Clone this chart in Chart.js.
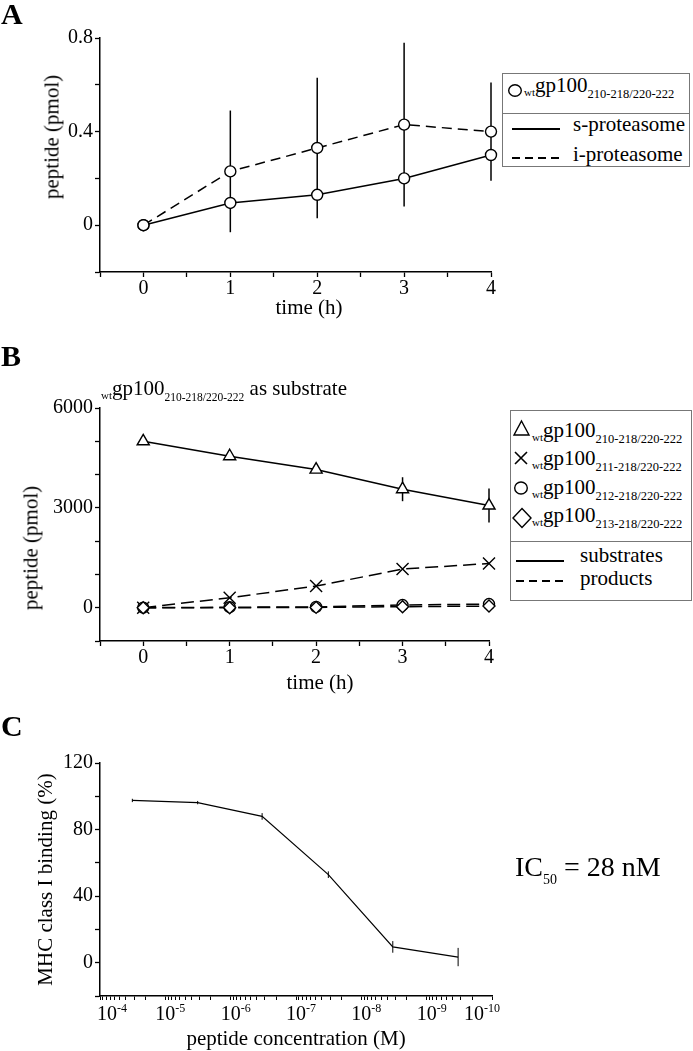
<!DOCTYPE html>
<html>
<head>
<meta charset="utf-8">
<script src="https://cdn.jsdelivr.net/npm/chart.js@4.4.0/dist/chart.umd.min.js"></script>
<style>
  body { margin: 0; background: #fff; }
  #page { position: relative; width: 693px; height: 1051px; overflow: hidden;
          font-family: 'Liberation Serif', 'Times New Roman', serif; color: #000; }
  canvas { position: absolute; left: 0; }
  .letter { position: absolute; left: 1px; font-weight: bold; font-size: 30px; line-height: 1; }
  .box { position: absolute; border: 1px solid #777; box-sizing: border-box; background: #fff; }
  .sep { position: absolute; height: 1px; background: #777; }
  .txt { position: absolute; white-space: nowrap; font-size: 21px; line-height: 1; }
  .ytitle { position: absolute; white-space: nowrap; font-size: 21px; line-height: 1;
            transform: translate(-50%, -50%) rotate(-90deg); }
  .xtitle { position: absolute; white-space: nowrap; font-size: 21px; line-height: 1;
            transform: translate(-50%, -50%); }
  .wt { font-size: 11px; position: relative; top: 4px; }
  .sb { font-size: 12.5px; position: relative; top: 6px; }
  svg { position: absolute; overflow: visible; }
</style>
</head>
<body>
<div id="page">
  <canvas id="chartA" width="693" height="320" style="top:0"></canvas>
  <canvas id="chartB" width="693" height="380" style="top:320px"></canvas>
  <canvas id="chartC" width="693" height="352" style="top:700px"></canvas>

  <div class="letter" style="top:-1px">A</div>
  <div class="letter" style="top:341px">B</div>
  <div class="letter" style="top:711px">C</div>

  <div class="ytitle" style="left:52px;top:137px">peptide (pmol)</div>
  <div class="ytitle" style="left:31px;top:548px">peptide (pmol)</div>
  <div class="xtitle" style="left:309px;top:307px">time (h)</div>
  <div class="xtitle" style="left:320px;top:682px">time (h)</div>

  <!-- legende A -->
  <div class="box" style="left:502px;top:73px;width:188px;height:94px"></div>
  <div class="sep" style="left:502px;top:113px;width:188px"></div>
  <svg style="left:508px;top:84px" width="14" height="13"><ellipse cx="7" cy="6.5" rx="6.3" ry="5.8" fill="#fff" stroke="#000" stroke-width="1.4"/></svg>
  <div class="txt" style="left:524px;top:75px"><span class="wt">wt</span>gp100<span class="sb">210-218/220-222</span></div>
  <svg style="left:512px;top:128px" width="48" height="3"><line x1="0" y1="1" x2="48" y2="1" stroke="#000" stroke-width="2"/></svg>
  <div class="txt" style="left:573px;top:114px">s-proteasome</div>
  <svg style="left:512px;top:157px" width="48" height="3"><line x1="0" y1="1" x2="48" y2="1" stroke="#000" stroke-width="2" stroke-dasharray="8 5"/></svg>
  <div class="txt" style="left:573px;top:144px">i-proteasome</div>

  <!-- titre B -->
  <div class="txt" style="left:101px;top:378px"><span class="wt">wt</span>gp100<span class="sb" style="font-size:11.5px">210-218/220-222</span> as substrate</div>

  <!-- legende B -->
  <div class="box" style="left:510px;top:410px;width:182px;height:191px"></div>
  <div class="sep" style="left:510px;top:541px;width:182px"></div>
  <svg style="left:513px;top:420px" width="17" height="20"><polygon points="8.5,1 16,15 1,15" fill="#fff" stroke="#000" stroke-width="1.4"/></svg>
  <div class="txt" style="left:532px;top:420px"><span class="wt">wt</span>gp100<span class="sb">210-218/220-222</span></div>
  <svg style="left:514px;top:451px" width="14" height="14"><path d="M1,1 L13,13 M13,1 L1,13" stroke="#000" stroke-width="1.6"/></svg>
  <div class="txt" style="left:532px;top:448px"><span class="wt">wt</span>gp100<span class="sb">211-218/220-222</span></div>
  <svg style="left:514px;top:481px" width="14" height="14"><ellipse cx="7" cy="7" rx="6.3" ry="6" fill="#fff" stroke="#000" stroke-width="1.4"/></svg>
  <div class="txt" style="left:532px;top:477px"><span class="wt">wt</span>gp100<span class="sb">212-218/220-222</span></div>
  <svg style="left:512px;top:508px" width="20" height="20"><polygon points="10,0.5 19,10 10,19.5 1,10" fill="#fff" stroke="#000" stroke-width="1.4"/></svg>
  <div class="txt" style="left:532px;top:505px"><span class="wt">wt</span>gp100<span class="sb">213-218/220-222</span></div>
  <svg style="left:516px;top:560px" width="48" height="3"><line x1="0" y1="1" x2="48" y2="1" stroke="#000" stroke-width="2"/></svg>
  <div class="txt" style="left:580px;top:545px">substrates</div>
  <svg style="left:516px;top:580px" width="48" height="3"><line x1="0" y1="1" x2="48" y2="1" stroke="#000" stroke-width="2" stroke-dasharray="8 5"/></svg>
  <div class="txt" style="left:580px;top:568px">products</div>

  <!-- IC50 -->
  <div class="txt" style="left:515px;top:853px;font-size:28px">IC<span style="font-size:14px;position:relative;top:8px">50</span> = 28 nM</div>
</div>

<script>
// Panel A : production du peptide (pmol) au cours du temps
const timeHours = [0, 1, 2, 3, 4];
const sProteasome = [0, 0.095, 0.13, 0.20, 0.30];
const iProteasome = [0, 0.23, 0.33, 0.43, 0.40];
const iProteasomeErr = [0, 0.26, 0.30, 0.35, 0.21];
const aYLabels = [0, 0.4, 0.8];

// Panel B : substrat wtgp100 210-218/220-222
const substrate210 = [5000, 4550, 4150, 3560, 3070];
const substrate210Err = [0, 0, 0, 360, 510];
const product211 = [0, 300, 650, 1160, 1330];
const product212 = [0, 15, 25, 80, 110];
const product213 = [0, 0, 10, 30, 50];
const bYLabels = [0, 3000, 6000];

// Panel C : liaison au CMH classe I
const concentrations = [3.2e-5, 3.2e-6, 3.3e-7, 3.2e-8, 3.3e-9, 3.3e-10];
const binding = [97.5, 96.2, 87.9, 52.9, 9.5, 3.4];
const bindingErr = [1, 1, 2, 2, 3.5, 5.5];
const cYLabels = [0, 40, 80, 120];
const concDecades = [-4, -5, -6, -7, -8, -9, -10];
const timeLabels = [0, 1, 2, 3, 4];

const FONT = "'Liberation Serif', 'Times New Roman', serif";
Chart.defaults.font.family = FONT;
Chart.defaults.color = '#000';

const tickFont = { size: 20 };
const titleFont = { size: 21 };

function pts(xs, ys) {
    return xs.map((x, i) => ({ x: x, y: ys[i] }));
}

function hasLabel(list, v) {
    return list.some(t => Math.abs(t - v) < 1e-6);
}

// barres d'erreur verticales, dessinées sous les marqueurs
const errorBars = {
    id: 'errorBars',
    beforeDatasetsDraw(chart) {
        const ctx = chart.ctx;
        const xs = chart.scales.x, ys = chart.scales.y;
        chart.data.datasets.forEach(ds => {
            if (!ds.errors) return;
            ctx.save();
            ctx.strokeStyle = '#000';
            ctx.lineWidth = ds.errorWidth || 1.5;
            ds.data.forEach((p, j) => {
                const e = ds.errors[j];
                if (!e) return;
                const x = xs.getPixelForValue(p.x);
                ctx.beginPath();
                ctx.moveTo(x, ys.getPixelForValue(p.y - e));
                ctx.lineTo(x, ys.getPixelForValue(p.y + e));
                ctx.stroke();
            });
            ctx.restore();
        });
    }
};

// étiquettes 10^n avec exposant, posées sur les graduations de l'axe log
const decadeLabels = {
    id: 'decadeLabels',
    afterDraw(chart) {
        const sc = chart.scales.x, ctx = chart.ctx;
        const base = sc.top + 24;
        ctx.save();
        ctx.fillStyle = '#000';
        ctx.textAlign = 'left';
        ctx.textBaseline = 'alphabetic';
        concDecades.forEach(d => {
            const x = sc.getPixelForValue(Math.pow(10, d));
            ctx.font = '20px ' + FONT;
            const w = ctx.measureText('10').width;
            ctx.font = '12px ' + FONT;
            const ew = ctx.measureText(String(d)).width;
            let left = x - w / 2;
            left = Math.max(left, 97);
            left = Math.min(left, 500 - w - ew);
            ctx.font = '20px ' + FONT;
            ctx.fillText('10', left, base);
            ctx.font = '12px ' + FONT;
            ctx.fillText(String(d), left + w, base - 8);
        });
        ctx.restore();
    }
};

const axisGrid = {
    display: true, drawOnChartArea: false, drawTicks: true,
    tickLength: 5, tickColor: '#000', tickWidth: 1.3
};
const axisBorder = { display: true, color: '#000', width: 1.5 };

function timeAxis(height) {
    return {
        type: 'linear', min: -0.5, max: 4,
        ticks: {
            stepSize: 0.5, autoSkip: false, maxRotation: 0, padding: 0, font: tickFont,
            callback: v => hasLabel(timeLabels, v) ? String(v) : ''
        },
        grid: axisGrid, border: axisBorder,
        afterFit: s => { s.height = height; }
    };
}

function valueAxis(min, max, step, labels, title, width, titlePad) {
    return {
        type: 'linear', min: min, max: max,
        ticks: {
            stepSize: step, autoSkip: false, padding: 2, font: tickFont,
            callback: v => hasLabel(labels, v) ? String(v) : ''
        },
        grid: axisGrid, border: axisBorder,
        title: { display: !!title, text: title, font: titleFont, padding: { top: titlePad, bottom: 0 } },
        afterFit: s => { s.width = width; }
    };
}

function baseOptions(padding, scales) {
    return {
        responsive: false, animation: false, devicePixelRatio: 1,
        layout: { padding: padding },
        plugins: { legend: { display: false }, tooltip: { enabled: false } },
        scales: scales
    };
}

// Graphique A
new Chart(document.getElementById('chartA'), {
    type: 'line',
    data: {
        datasets: [
            {
                label: 's-proteasome', data: pts(timeHours, sProteasome),
                borderColor: '#000', borderWidth: 1.5, clip: false,
                pointStyle: 'circle', pointRadius: 5.5, pointBorderWidth: 1.4,
                pointBackgroundColor: '#fff', pointBorderColor: '#000'
            },
            {
                label: 'i-proteasome', data: pts(timeHours, iProteasome), errors: iProteasomeErr,
                borderColor: '#000', borderWidth: 1.5, borderDash: [10, 6], clip: false,
                pointStyle: 'circle', pointRadius: 5.5, pointBorderWidth: 1.4,
                pointBackgroundColor: '#fff', pointBorderColor: '#000'
            }
        ]
    },
    options: baseOptions({ top: 38, right: 202, bottom: 0, left: 0 }, {
        x: timeAxis(48),
        y: valueAxis(-0.2, 0.8, 0.2, aYLabels, '', 100, 0)
    }),
    plugins: [errorBars]
});

// Graphique B
function productSet(label, values, style, radius) {
    return {
        label: label, data: pts(timeHours, values),
        borderColor: '#000', borderWidth: 1.5, borderDash: [13, 6], clip: false,
        pointStyle: style, pointRadius: radius, pointBorderWidth: 1.4,
        pointBackgroundColor: '#fff', pointBorderColor: '#000'
    };
}

new Chart(document.getElementById('chartB'), {
    type: 'line',
    data: {
        datasets: [
            productSet('213-218/220-222', product213, 'rectRot', 6),
            productSet('212-218/220-222', product212, 'circle', 5.5),
            productSet('211-218/220-222', product211, 'crossRot', 8.5),
            {
                label: '210-218/220-222', data: pts(timeHours, substrate210), errors: substrate210Err,
                borderColor: '#000', borderWidth: 1.5, clip: false,
                pointStyle: 'triangle', pointRadius: 7, pointBorderWidth: 1.4,
                pointBackgroundColor: '#fff', pointBorderColor: '#000'
            }
        ]
    },
    options: baseOptions({ top: 88, right: 204, bottom: 0, left: 0 }, {
        x: timeAxis(59),
        y: valueAxis(-1000, 6000, 1000, bYLabels, '', 100, 0)
    }),
    plugins: [errorBars]
});

// Graphique C : axe log inversé 10^-4 -> 10^-10
new Chart(document.getElementById('chartC'), {
    type: 'line',
    data: {
        datasets: [{
            label: 'binding', data: pts(concentrations, binding), errors: bindingErr, errorWidth: 1,
            borderColor: '#000', borderWidth: 1.2, pointRadius: 0, clip: false
        }]
    },
    options: baseOptions({ top: 63, right: 201, bottom: 0, left: 0 }, {
        x: {
            type: 'logarithmic', reverse: true, min: 1e-10, max: 1e-4,
            afterBuildTicks: scale => {
                const ticks = [];
                concDecades.forEach(d => {
                    ticks.push({ value: Math.pow(10, d) });
                    if (d > -10) {
                        for (let m = 2; m <= 9; m++) ticks.push({ value: m * Math.pow(10, d - 1) });
                    }
                });
                scale.ticks = ticks;
            },
            ticks: { autoSkip: false, maxRotation: 0, padding: 0, font: tickFont, callback: () => '' },
            grid: Object.assign({}, axisGrid, { tickLength: 4, tickWidth: 1 }),
            border: axisBorder,
            title: { display: true, text: 'peptide concentration (M)', font: titleFont, padding: { top: 0, bottom: 0 } },
            afterFit: s => { s.height = 56; }
        },
        y: valueAxis(-20, 120, 20, cYLabels, 'MHC class I binding (%)', 100, 34)
    }),
    plugins: [errorBars, decadeLabels]
});
</script>
</body>
</html>
